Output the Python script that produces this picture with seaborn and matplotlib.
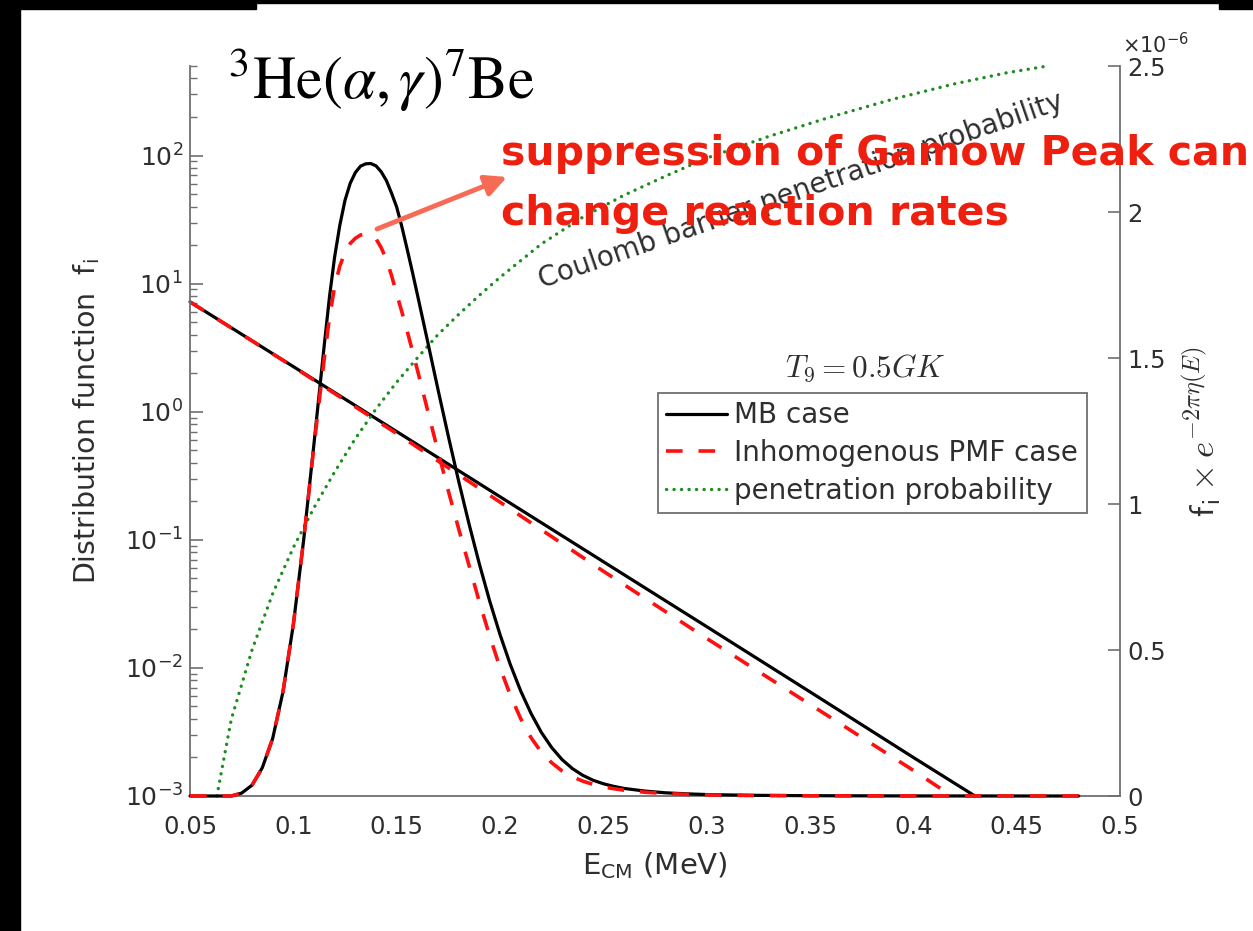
import numpy as np
import pandas as pd
import matplotlib
matplotlib.use("Agg")
import matplotlib.pyplot as plt
import seaborn as sns
from matplotlib.patches import Rectangle
from matplotlib.ticker import FixedLocator, LogLocator, NullFormatter

# ---------------------------------------------------------------- data
# Distribution functions f_i (left, logarithmic axis)
mb_energy = [0.05, 0.10, 0.15, 0.20, 0.25, 0.30, 0.35, 0.40, 0.4298]
mb_dist = [7.2, 2.25, 0.70, 0.217, 0.0675, 0.021, 6.5e-3, 2.0e-3, 1.0e-3]

pmf_energy = [0.05, 0.10, 0.15, 0.20, 0.25, 0.30, 0.35, 0.40, 0.4186]
pmf_dist = [7.2, 2.24, 0.676, 0.197, 0.0569, 0.0170, 5.19e-3, 1.585e-3, 1.0e-3]

# Coulomb barrier penetration probability (left axis)
pen_energy = [0.063, 0.07, 0.08, 0.09, 0.10, 0.11, 0.12, 0.13, 0.14, 0.15,
              0.16, 0.17, 0.18, 0.19, 0.20, 0.22, 0.24, 0.26, 0.28, 0.30,
              0.33, 0.36, 0.39, 0.42, 0.445, 0.465]
pen_prob = [1.0e-3, 3.98e-3, 0.0138, 0.038, 0.087, 0.178, 0.339, 0.617, 1.05, 1.70,
            2.63, 4.0, 5.75, 8.1, 11.2, 20.4, 33.0, 49.0, 69.0, 95.5,
            141.0, 200.0, 275.0, 363.0, 442.0, 500.0]

# Gamow peaks f_i x exp(-2 pi eta), in units of 1e-6 (right axis)
gamow_mb_energy = [0.05, 0.07, 0.075, 0.08, 0.085, 0.09, 0.095, 0.10, 0.105, 0.11,
                   0.115, 0.1175, 0.12, 0.1225, 0.125, 0.1275, 0.13, 0.1325, 0.135,
                   0.1375, 0.14, 0.1425, 0.145, 0.1475, 0.15, 0.1525, 0.155, 0.1575,
                   0.16, 0.165, 0.17, 0.175, 0.18, 0.185, 0.19, 0.195, 0.20, 0.205,
                   0.21, 0.215, 0.22, 0.225, 0.23, 0.235, 0.24, 0.245, 0.25, 0.255,
                   0.26, 0.27, 0.28, 0.29, 0.30, 0.32, 0.35, 0.40, 0.48]
gamow_mb = [0.0, 0.0, 0.010, 0.037, 0.097, 0.197, 0.357, 0.587, 0.877, 1.207,
            1.547, 1.710, 1.847, 1.955, 2.040, 2.098, 2.135, 2.157, 2.165,
            2.166, 2.158, 2.138, 2.108, 2.065, 2.017, 1.950, 1.875, 1.798,
            1.718, 1.556, 1.392, 1.232, 1.078, 0.932, 0.795, 0.668, 0.553, 0.450,
            0.360, 0.283, 0.218, 0.166, 0.125, 0.094, 0.071, 0.054, 0.042, 0.033,
            0.026, 0.017, 0.011, 0.0075, 0.005, 0.0025, 0.001, 0.0002, 0.0]

gamow_pmf_energy = [0.05, 0.07, 0.075, 0.08, 0.085, 0.09, 0.095, 0.10, 0.105, 0.11,
                    0.115, 0.1175, 0.12, 0.1225, 0.125, 0.1275, 0.13, 0.1325, 0.135,
                    0.1375, 0.14, 0.1425, 0.145, 0.1475, 0.15, 0.1525, 0.155, 0.16,
                    0.165, 0.17, 0.175, 0.18, 0.185, 0.19, 0.195, 0.20, 0.205, 0.21,
                    0.215, 0.22, 0.225, 0.23, 0.235, 0.24, 0.245, 0.25, 0.255, 0.26,
                    0.27, 0.28, 0.29, 0.30, 0.32, 0.35, 0.40, 0.48]
gamow_pmf = [0.0, 0.0, 0.010, 0.037, 0.097, 0.197, 0.357, 0.587, 0.877, 1.200,
             1.500, 1.640, 1.745, 1.815, 1.862, 1.892, 1.910, 1.921, 1.925,
             1.920, 1.908, 1.878, 1.838, 1.783, 1.720, 1.658, 1.595, 1.460,
             1.320, 1.180, 1.045, 0.915, 0.790, 0.665, 0.548, 0.440, 0.345, 0.265,
             0.200, 0.150, 0.114, 0.086, 0.066, 0.051, 0.040, 0.031, 0.025, 0.020,
             0.013, 0.0085, 0.0055, 0.0037, 0.0018, 0.0006, 0.0001, 0.0]

x_ticks = [0.05, 0.1, 0.15, 0.2, 0.25, 0.3, 0.35, 0.4, 0.45, 0.5]
x_tick_labels = ["0.05", "0.1", "0.15", "0.2", "0.25", "0.3", "0.35", "0.4", "0.45", "0.5"]
right_ticks = [0.0, 0.5, 1.0, 1.5, 2.0, 2.5]
right_tick_labels = ["0", "0.5", "1", "1.5", "2", "2.5"]

legend_labels = ["MB case", "Inhomogenous PMF case", "penetration probability"]

# ---------------------------------------------------------------- style
sns.set_theme(style="white")
plt.rcParams["font.family"] = ["DejaVu Sans"]
plt.rcParams["mathtext.fontset"] = "dejavusans"

AXIS_GRAY = "#6f6f6f"
TEXT_GRAY = "#2e2e2e"
GREEN = "#1e8c1e"
RED = "#ff1010"
DASH = (4.6, 4.4)

W, H = 1253, 931
fig = plt.figure(figsize=(W / 100, H / 100), dpi=100)
fig.patch.set_facecolor("white")

ax = fig.add_axes([190 / W, 1 - 796 / H, 930 / W, 730 / H])
ax2 = ax.twinx()
ax.set_facecolor("none")

# ---------------------------------------------------------------- left axis curves
df_mb = pd.DataFrame({"E": mb_energy, "f": mb_dist})
df_pmf = pd.DataFrame({"E": pmf_energy, "f": pmf_dist})
df_pen = pd.DataFrame({"E": pen_energy, "f": pen_prob})

sns.lineplot(data=df_mb, x="E", y="f", ax=ax, color="black", lw=2.3,
             estimator=None, clip_on=False)
sns.lineplot(data=df_pmf, x="E", y="f", ax=ax, color=RED, lw=2.6,
             estimator=None, clip_on=False)
ax.lines[-1].set_dashes(DASH)
sns.lineplot(data=df_pen, x="E", y="f", ax=ax, color=GREEN, lw=2.4,
             estimator=None, clip_on=False)
ax.lines[-1].set_dashes((0.05, 2.2))
ax.lines[-1].set_dash_capstyle("round")

# ---------------------------------------------------------------- right axis curves
df_gmb = pd.DataFrame({"E": gamow_mb_energy, "g": gamow_mb})
df_gpmf = pd.DataFrame({"E": gamow_pmf_energy, "g": gamow_pmf})
sns.lineplot(data=df_gmb, x="E", y="g", ax=ax2, color="black", lw=2.3,
             estimator=None, clip_on=False)
ax2.lines[-1].set_solid_joinstyle("round")
sns.lineplot(data=df_gpmf, x="E", y="g", ax=ax2, color=RED, lw=2.6,
             estimator=None, clip_on=False)
ax2.lines[-1].set_dashes(DASH)

# ---------------------------------------------------------------- axes
ax.set_yscale("log")
ax.set_xlim(0.05, 0.5)
ax.set_ylim(1e-3, 500)
ax2.set_ylim(0, 2.5)

ax.xaxis.set_major_locator(FixedLocator(x_ticks))
ax.set_xticklabels(x_tick_labels)
ax.yaxis.set_major_locator(LogLocator(base=10, numticks=12))
ax.yaxis.set_minor_locator(LogLocator(base=10, subs=np.arange(2, 10), numticks=12))
ax.yaxis.set_minor_formatter(NullFormatter())
ax2.yaxis.set_major_locator(FixedLocator(right_ticks))
ax2.set_yticklabels(right_tick_labels)
ax2.set_xlim(0.05, 0.5)

for a in (ax, ax2):
    a.grid(False)
    for s in a.spines.values():
        s.set_color(AXIS_GRAY)
        s.set_linewidth(1.3)
    a.spines["top"].set_visible(False)
ax.spines["right"].set_visible(False)
ax2.spines["left"].set_visible(False)
ax2.spines["bottom"].set_visible(False)

ax.tick_params(axis="y", which="major", direction="in", length=9, width=1.2,
               color=AXIS_GRAY, labelcolor=TEXT_GRAY, labelsize=18, pad=5)
ax.tick_params(axis="x", which="major", direction="in", length=9, width=1.2,
               color=AXIS_GRAY, labelcolor=TEXT_GRAY, labelsize=17.5, pad=14)
ax.tick_params(axis="y", which="minor", direction="in", length=5, width=1.0,
               color=AXIS_GRAY, right=False)
ax.tick_params(axis="x", which="both", top=False)
ax.tick_params(axis="y", which="both", right=False)
ax2.tick_params(axis="y", which="major", direction="in", length=9, width=1.2,
                color=AXIS_GRAY, labelcolor=TEXT_GRAY, labelsize=17.5, pad=5)

ax.set_xlabel(r"E$_{\mathrm{CM}}$ (MeV)", fontsize=21, color=TEXT_GRAY)
ax.xaxis.set_label_coords(0.5, -0.074)
ax.set_ylabel(r"Distribution function  f$_{\mathrm{i}}$", fontsize=20.5, color=TEXT_GRAY)
ax.yaxis.set_label_coords(-0.095, 0.514)
ax2.set_ylabel(r"$\mathsf{f}_\mathsf{i}\times e^{-2\pi\eta(E)}$", fontsize=25,
               color=TEXT_GRAY, math_fontfamily="cm")
ax2.yaxis.set_label_coords(1.066, 0.50)

fig.text(1122 / W, 1 - 53 / H, r"$\times10^{-6}$", fontsize=15, color=TEXT_GRAY,
         ha="left", va="baseline")

# ---------------------------------------------------------------- legend
handles = [ax2.lines[0], ax2.lines[1], ax.lines[2]]
leg = ax2.legend(handles, legend_labels, loc="upper left",
                 bbox_to_anchor=(658 / W, 1 - 393 / H), bbox_transform=fig.transFigure,
                 frameon=True, fancybox=False, framealpha=1, edgecolor=AXIS_GRAY,
                 fontsize=20, handlelength=2.2, handletextpad=0.25, borderpad=0.3,
                 labelspacing=0.35, borderaxespad=0)
leg.get_frame().set_linewidth(1.3)
for t in leg.get_texts():
    t.set_color(TEXT_GRAY)

# ---------------------------------------------------------------- annotations
fig.text(228 / W, 1 - 98 / H, r"$^{3}\mathrm{He}(\alpha,\gamma)^{7}\mathrm{Be}$",
         fontsize=43, math_fontfamily="stix", color="black", ha="left", va="baseline")
fig.text(865 / W, 1 - 377 / H, r"$T_9 = 0.5GK$", fontsize=22.5, math_fontfamily="cm",
         color=TEXT_GRAY, ha="center", va="baseline")
fig.text(542 / W, 1 - 288 / H, "Coulomb barrier penetration probability", rotation=19,
         rotation_mode="anchor", fontsize=20, color=TEXT_GRAY, ha="left", va="baseline")

ax2.annotate("", xy=(507, H - 177), xycoords="figure pixels",
             xytext=(377, H - 229), textcoords="figure pixels",
             arrowprops=dict(arrowstyle="-|>", color="#f76a55", lw=3.5,
                             mutation_scale=32, shrinkA=0, shrinkB=0))

RED_TEXT = "#ee1f0f"
fig.text(501 / W, 1 - 165 / H, "suppression of Gamow Peak can", fontsize=29.5,
         fontweight="bold", color=RED_TEXT, ha="left", va="baseline")
fig.text(501 / W, 1 - 225 / H, "change reaction rates", fontsize=29.5,
         fontweight="bold", color=RED_TEXT, ha="left", va="baseline")

# ---------------------------------------------------------------- dark frame edges
for (x0, y0, w, h) in [(0, 0, 20, H), (0, H - 9, 256, 9), (256, H - 3, 963, 3),
                       (1219, H - 9, 34, 9)]:
    fig.patches.append(Rectangle((x0 / W, y0 / H), w / W, h / H,
                                 transform=fig.transFigure, color="black", zorder=10))

fig.savefig("out.png", dpi=100, facecolor="white")
